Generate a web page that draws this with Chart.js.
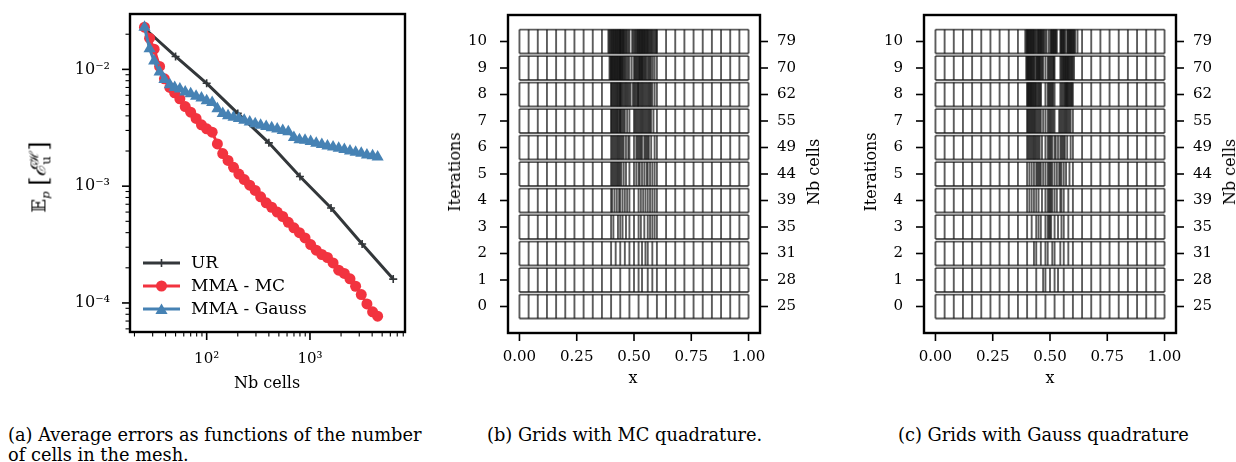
<!DOCTYPE html>
<html><head><meta charset="utf-8">
<script src="https://cdn.jsdelivr.net/npm/chart.js"></script>
<style>
html,body{margin:0;padding:0;background:#fff;}
body{width:1236px;height:462px;position:relative;overflow:hidden;font-family:'DejaVu Serif',serif;color:#000;}
canvas{position:absolute;top:0;}
.t{position:absolute;white-space:nowrap;font-family:'DejaVu Serif',serif;font-size:16px;line-height:1;transform:translate(-50%,-50%);}
.rot{transform:translate(-50%,-50%) rotate(-90deg);}
.cap{position:absolute;white-space:nowrap;font-family:'DejaVu Serif',serif;font-size:15px;line-height:1;}
</style></head><body>
<canvas id="ca" width="420" height="400" style="left:0px"></canvas>
<canvas id="cb" width="390" height="400" style="left:430px"></canvas>
<canvas id="cc" width="390" height="400" style="left:846px"></canvas>

<div class="t" style="left:267px;top:383px">Nb cells</div>
<div class="t rot" style="left:40px;top:177px;font-size:18px">𝔼<sub style="font-size:0.65em"><i>p</i></sub> <span style="font-size:1.3em;vertical-align:-0.05em">[</span><span style="font-size:1.15em;font-style:italic">ℰ</span><span style="display:inline-block;vertical-align:middle;font-size:0.72em;line-height:0.95;">ℋ<br>u</span><span style="font-size:1.3em;vertical-align:-0.05em">]</span></div>

<div class="t" style="left:633px;top:378px">x</div>
<div class="t rot" style="left:455px;top:172px">Iterations</div>
<div class="t rot" style="left:814px;top:172px">Nb cells</div>

<div class="t" style="left:1050px;top:378px">x</div>
<div class="t rot" style="left:871px;top:172px">Iterations</div>
<div class="t rot" style="left:1230px;top:172px">Nb cells</div>

<div class="cap" id="capa1" style="left:8px;top:426px">(a) Average errors as functions of the number</div>
<div class="cap" id="capa2" style="left:8px;top:446px">of cells in the mesh.</div>
<div class="cap" id="capb" style="left:487px;top:426px">(b) Grids with MC quadrature.</div>
<div class="cap" id="capc" style="left:898px;top:426px">(c) Grids with Gauss quadrature</div>

<script>
// ---------- Panel (a) data ----------
const urCells = [25, 50, 100, 200, 400, 800, 1600, 3200, 6400];
const urError = [0.0225, 0.0129, 0.0076, 0.0042, 0.00235, 0.00121, 0.00065, 0.00032, 0.00016];
const mmaCells = [25, 28, 31, 35, 39, 44, 49, 55, 62, 70, 79, 89, 100, 113, 127, 143, 161, 182, 205, 231, 261, 295, 333, 377, 426, 482, 545, 617, 699, 791, 896, 1015, 1150, 1303, 1477, 1674, 1898, 2152, 2440, 2767, 3138, 3560, 4040, 4520];
const mcError = [0.0230, 0.0185, 0.0149, 0.0106, 0.0083, 0.0070, 0.0063, 0.0056, 0.0048, 0.0043, 0.0038, 0.00335, 0.0031, 0.0029, 0.0023, 0.0019, 0.00166, 0.00145, 0.00127, 0.00114, 0.00102, 0.00092, 0.00081, 0.00072, 0.00066, 0.0006, 0.00055, 0.00049, 0.00044, 0.0004, 0.00036, 0.000316, 0.000283, 0.00026, 0.000245, 0.00022, 0.000191, 0.000179, 0.000161, 0.000139, 0.000118, 0.000098, 0.000084, 0.000077];
const gaussError = [0.0230, 0.0150, 0.0118, 0.0095, 0.0082, 0.0074, 0.0070, 0.0068, 0.0064, 0.0062, 0.0059, 0.0057, 0.0054, 0.0052, 0.0046, 0.0042, 0.0040, 0.0039, 0.0038, 0.00366, 0.00354, 0.00343, 0.00333, 0.00325, 0.00316, 0.00308, 0.0030, 0.00292, 0.00261, 0.0025, 0.00247, 0.00241, 0.00233, 0.00227, 0.00221, 0.00216, 0.00211, 0.00206, 0.0020, 0.00195, 0.00191, 0.00185, 0.00182, 0.00178];
const seriesNames = ['UR', 'MMA - MC', 'MMA - Gauss'];
const xMajorTicks = [100, 1000];
const xMajorLabels = ['10²', '10³'];
const xMinorTicks = [20, 30, 40, 50, 60, 70, 80, 90, 200, 300, 400, 500, 600, 700, 800, 900, 2000, 3000, 4000, 5000, 6000, 7000, 8000];
const yMajorTicks = [0.0001, 0.001, 0.01];
const yMajorLabels = ['10⁻⁴', '10⁻³', '10⁻²'];
const yMinorTicks = [0.00006, 0.00007, 0.00008, 0.00009, 0.0002, 0.0003, 0.0004, 0.0005, 0.0006, 0.0007, 0.0008, 0.0009, 0.002, 0.003, 0.004, 0.005, 0.006, 0.007, 0.008, 0.009, 0.02];

// ---------- Panels (b),(c) data ----------
const iterations = [0, 1, 2, 3, 4, 5, 6, 7, 8, 9, 10];
const nbCells = [25, 28, 31, 35, 39, 44, 49, 55, 62, 70, 79];
const xGridTicks = [0, 0.25, 0.5, 0.75, 1.0];
const xGridLabels = ['0.00', '0.25', '0.50', '0.75', '1.00'];
const baseEdges = [0, 0.04, 0.08, 0.12, 0.16, 0.2, 0.24, 0.28, 0.32, 0.36, 0.4, 0.44, 0.48, 0.52, 0.56, 0.6, 0.64, 0.68, 0.72, 0.76, 0.8, 0.84, 0.88, 0.92, 0.96, 1.0];
const mcExtraEdges = [
  [],
  [0.50, 0.535, 0.58],
  [0.42, 0.46, 0.50, 0.535, 0.55, 0.58],
  [0.41, 0.43, 0.45, 0.465, 0.50, 0.53, 0.545, 0.57, 0.58, 0.59],
  [0.405, 0.415, 0.425, 0.435, 0.45, 0.46, 0.47, 0.50, 0.53, 0.54, 0.55, 0.57, 0.58, 0.59],
  [0.405, 0.41, 0.415, 0.42, 0.425, 0.43, 0.435, 0.445, 0.455, 0.465, 0.50, 0.51, 0.525, 0.535, 0.545, 0.555, 0.57, 0.58, 0.59],
  [0.405, 0.41, 0.415, 0.42, 0.425, 0.43, 0.435, 0.445, 0.45, 0.455, 0.465, 0.475, 0.50, 0.51, 0.515, 0.525, 0.53, 0.535, 0.545, 0.55, 0.555, 0.565, 0.575, 0.59],
  [0.402, 0.406, 0.41, 0.414, 0.418, 0.422, 0.426, 0.43, 0.435, 0.44, 0.445, 0.45, 0.455, 0.46, 0.47, 0.50, 0.505, 0.51, 0.515, 0.525, 0.53, 0.535, 0.54, 0.545, 0.55, 0.555, 0.565, 0.57, 0.575, 0.585],
  [0.402, 0.406, 0.41, 0.414, 0.418, 0.422, 0.426, 0.43, 0.434, 0.438, 0.442, 0.446, 0.45, 0.455, 0.46, 0.465, 0.47, 0.475, 0.485, 0.495, 0.50, 0.505, 0.51, 0.515, 0.518, 0.525, 0.53, 0.535, 0.54, 0.545, 0.55, 0.555, 0.565, 0.57, 0.575, 0.58, 0.59],
  [0.393, 0.397, 0.402, 0.405, 0.408, 0.411, 0.414, 0.417, 0.42, 0.423, 0.426, 0.429, 0.432, 0.435, 0.438, 0.442, 0.445, 0.448, 0.451, 0.455, 0.459, 0.463, 0.468, 0.474, 0.49, 0.50, 0.504, 0.508, 0.512, 0.516, 0.523, 0.526, 0.529, 0.532, 0.535, 0.538, 0.542, 0.546, 0.55, 0.554, 0.565, 0.57, 0.575, 0.582, 0.59],
  [0.388, 0.392, 0.396, 0.403, 0.406, 0.409, 0.412, 0.415, 0.418, 0.421, 0.424, 0.427, 0.43, 0.433, 0.436, 0.439, 0.443, 0.446, 0.449, 0.452, 0.455, 0.458, 0.462, 0.466, 0.47, 0.476, 0.492, 0.497, 0.502, 0.506, 0.51, 0.514, 0.517, 0.523, 0.526, 0.529, 0.532, 0.535, 0.538, 0.541, 0.544, 0.547, 0.55, 0.553, 0.557, 0.563, 0.567, 0.571, 0.575, 0.579, 0.584, 0.589, 0.594, 0.598]
];
const gaussExtraEdges = [
  [],
  [0.47, 0.50, 0.535],
  [0.43, 0.46, 0.49, 0.51, 0.545, 0.58],
  [0.42, 0.45, 0.46, 0.49, 0.495, 0.50, 0.505, 0.535, 0.55, 0.58],
  [0.41, 0.42, 0.43, 0.45, 0.465, 0.49, 0.495, 0.50, 0.505, 0.51, 0.53, 0.545, 0.55, 0.58],
  [0.41, 0.42, 0.43, 0.445, 0.45, 0.455, 0.46, 0.47, 0.49, 0.495, 0.50, 0.505, 0.51, 0.53, 0.54, 0.545, 0.55, 0.57, 0.585],
  [0.405, 0.41, 0.415, 0.42, 0.425, 0.43, 0.435, 0.445, 0.45, 0.455, 0.465, 0.49, 0.495, 0.50, 0.505, 0.51, 0.525, 0.535, 0.545, 0.55, 0.555, 0.565, 0.575, 0.59],
  [0.403, 0.407, 0.411, 0.415, 0.419, 0.423, 0.427, 0.431, 0.435, 0.445, 0.45, 0.455, 0.46, 0.47, 0.49, 0.495, 0.50, 0.505, 0.51, 0.515, 0.54, 0.545, 0.55, 0.555, 0.565, 0.57, 0.575, 0.58, 0.585, 0.59],
  [0.402, 0.405, 0.408, 0.411, 0.414, 0.417, 0.42, 0.423, 0.426, 0.43, 0.434, 0.437, 0.445, 0.449, 0.453, 0.457, 0.461, 0.49, 0.494, 0.498, 0.502, 0.506, 0.51, 0.514, 0.545, 0.55, 0.555, 0.565, 0.568, 0.571, 0.574, 0.577, 0.58, 0.584, 0.588, 0.592, 0.596],
  [0.396, 0.402, 0.405, 0.408, 0.411, 0.414, 0.417, 0.42, 0.423, 0.426, 0.43, 0.434, 0.443, 0.446, 0.449, 0.452, 0.455, 0.458, 0.462, 0.466, 0.47, 0.49, 0.494, 0.498, 0.502, 0.506, 0.51, 0.514, 0.517, 0.545, 0.549, 0.553, 0.557, 0.563, 0.566, 0.569, 0.572, 0.575, 0.578, 0.581, 0.584, 0.588, 0.592, 0.596, 0.605],
  [0.392, 0.397, 0.402, 0.405, 0.408, 0.411, 0.414, 0.417, 0.42, 0.423, 0.426, 0.429, 0.432, 0.436, 0.445, 0.448, 0.451, 0.454, 0.457, 0.46, 0.463, 0.466, 0.47, 0.485, 0.495, 0.502, 0.505, 0.508, 0.511, 0.514, 0.517, 0.523, 0.526, 0.53, 0.545, 0.548, 0.551, 0.554, 0.557, 0.563, 0.567, 0.575, 0.578, 0.581, 0.584, 0.587, 0.59, 0.593, 0.596, 0.603, 0.606, 0.61, 0.62, 0.474]
];

// ---------- styles ----------
const FONT = 'DejaVu Serif';
Chart.defaults.font.family = FONT;
Chart.defaults.font.size = 15;
Chart.defaults.color = '#000';
const C_UR = '#33373a', C_MC = '#f2333f', C_GA = '#4682b4';
const ROW_HALF = 0.45;
const CELL_COLOR = 'rgba(15,15,15,0.68)';

function noPad(s) { s.paddingTop = 0; s.paddingBottom = 0; s.paddingLeft = 0; s.paddingRight = 0; }

function makeFrame(spec) {
  return {
    id: 'frame',
    afterDraw(chart) {
      const {ctx, chartArea: a} = chart;
      ctx.save();
      ctx.strokeStyle = '#000';
      for (const id of Object.keys(spec)) {
        const s = chart.scales[id];
        const major = spec[id];
        for (const t of s.ticks) {
          const isMajor = major ? major.includes(t.value) : true;
          const len = isMajor ? 8 : 4.5;
          ctx.lineWidth = isMajor ? 1.6 : 1.1;
          const p = s.getPixelForValue(t.value);
          ctx.beginPath();
          if (s.position === 'bottom') { ctx.moveTo(p, a.bottom); ctx.lineTo(p, a.bottom + len); }
          else if (s.position === 'left') { ctx.moveTo(a.left, p); ctx.lineTo(a.left - len, p); }
          else { ctx.moveTo(a.right, p); ctx.lineTo(a.right + len, p); }
          ctx.stroke();
        }
      }
      ctx.lineWidth = 2.4;
      ctx.strokeRect(a.left, a.top, a.right - a.left, a.bottom - a.top);
      ctx.restore();
    }
  };
}

function drawMarker(ctx, style, x, y, r, color) {
  ctx.fillStyle = color; ctx.strokeStyle = color;
  ctx.beginPath();
  if (style === 'circle') { ctx.arc(x, y, r, 0, Math.PI * 2); ctx.fill(); }
  else if (style === 'triangle') {
    for (let i = 0; i < 3; i++) {
      const ang = i * 2 * Math.PI / 3;
      const px = x + Math.sin(ang) * r, py = y - Math.cos(ang) * r;
      if (i === 0) ctx.moveTo(px, py); else ctx.lineTo(px, py);
    }
    ctx.closePath(); ctx.fill();
  } else {
    ctx.lineWidth = 1.6;
    ctx.moveTo(x - r, y); ctx.lineTo(x + r, y); ctx.moveTo(x, y - r); ctx.lineTo(x, y + r); ctx.stroke();
  }
}

const legendPlugin = {
  id: 'lgd',
  afterDraw(chart) {
    const {ctx, chartArea: a} = chart;
    const rows = [
      {name: seriesNames[0], color: C_UR, marker: 'cross', r: 4},
      {name: seriesNames[1], color: C_MC, marker: 'circle', r: 5.5},
      {name: seriesNames[2], color: C_GA, marker: 'triangle', r: 7}
    ];
    ctx.save();
    rows.forEach((row, i) => {
      const y = a.bottom - 69 + i * 23;
      const x0 = a.left + 13, x1 = a.left + 50;
      ctx.strokeStyle = row.color; ctx.lineWidth = 3;
      ctx.beginPath(); ctx.moveTo(x0, y); ctx.lineTo(x1, y); ctx.stroke();
      drawMarker(ctx, row.marker, (x0 + x1) / 2, y + (row.marker === 'triangle' ? 1.5 : 0), row.r, row.color);
      ctx.fillStyle = '#000';
      ctx.font = '17px ' + FONT;
      ctx.textBaseline = 'middle'; ctx.textAlign = 'left';
      ctx.fillText(row.name, a.left + 61, y + 1);
    });
    ctx.restore();
  }
};

// ---------- Chart (a) ----------
new Chart(document.getElementById('ca'), {
  type: 'line',
  data: {
    datasets: [
      {label: seriesNames[0], data: urCells.map((c, i) => ({x: c, y: urError[i]})), borderColor: C_UR, backgroundColor: C_UR,
       borderWidth: 3, pointStyle: 'cross', pointRadius: 4, pointBorderWidth: 1.6, order: 3},
      {label: seriesNames[1], data: mmaCells.map((c, i) => ({x: c, y: mcError[i]})), borderColor: C_MC, backgroundColor: C_MC,
       borderWidth: 3, pointStyle: 'circle', pointRadius: 5.5, pointBorderWidth: 0, order: 2},
      {label: seriesNames[2], data: mmaCells.map((c, i) => ({x: c, y: gaussError[i]})), borderColor: C_GA, backgroundColor: C_GA,
       borderWidth: 3, pointStyle: 'triangle', pointRadius: 7, pointBorderWidth: 0, order: 1}
    ]
  },
  options: {
    responsive: false, animation: false, events: [],
    layout: {padding: {top: 14, right: 15, left: 0, bottom: 0}},
    plugins: {legend: {display: false}, tooltip: {enabled: false}},
    scales: {
      x: {type: 'logarithmic', min: 18.1, max: 8320,
          grid: {display: false, drawTicks: true, tickLength: 8}, border: {display: false},
          afterBuildTicks: s => { s.ticks = xMinorTicks.concat(xMajorTicks).sort((p, q) => p - q).map(v => ({value: v})); },
          afterFit: s => { s.height = 68; noPad(s); },
          ticks: {autoSkip: false, maxRotation: 0, padding: 10,
                  callback: v => { const k = xMajorTicks.indexOf(v); return k >= 0 ? xMajorLabels[k] : ''; }}},
      y: {type: 'logarithmic', min: 0.0000564, max: 0.0298,
          grid: {display: false, drawTicks: true, tickLength: 8}, border: {display: false},
          afterBuildTicks: s => { s.ticks = yMinorTicks.concat(yMajorTicks).sort((p, q) => p - q).map(v => ({value: v})); },
          afterFit: s => { s.width = 130; noPad(s); },
          ticks: {autoSkip: false, padding: 12, font: {size: 16},
                  callback: v => { const k = yMajorTicks.findIndex(m => Math.abs(m - v) < m * 1e-6); return k >= 0 ? yMajorLabels[k] : ''; }}}
    }
  },
  plugins: [makeFrame({x: xMajorTicks, y: yMajorTicks}), legendPlugin]
});

// ---------- Charts (b),(c) ----------
// one dataset per cell edge so that overlapping edges darken like the reference
function gridDatasets(extra) {
  const sets = [];
  iterations.forEach((k, i) => {
    baseEdges.concat(extra[i]).forEach(e => {
      sets.push({data: [{x: e, y: k - ROW_HALF}, {x: e, y: k + ROW_HALF}],
                 borderColor: CELL_COLOR, borderWidth: 1.9, pointRadius: 0, fill: false, tension: 0});
    });
    sets.push({data: [{x: 0, y: k - ROW_HALF}, {x: 1, y: k - ROW_HALF}, {x: 1, y: null}, {x: 0, y: k + ROW_HALF}, {x: 1, y: k + ROW_HALF}],
               borderColor: CELL_COLOR, borderWidth: 1.9, pointRadius: 0, fill: false, tension: 0, spanGaps: false});
  });
  return sets;
}

function gridChart(id, extra) {
  new Chart(document.getElementById(id), {
    type: 'line',
    data: {datasets: gridDatasets(extra)},
    options: {
      responsive: false, animation: false, events: [],
      layout: {padding: {top: 15, right: 0, left: 0, bottom: 0}},
      plugins: {legend: {display: false}, tooltip: {enabled: false}},
      scales: {
        x: {type: 'linear', min: -0.05, max: 1.05,
            grid: {display: false, drawTicks: true, tickLength: 8}, border: {display: false},
            afterBuildTicks: s => { s.ticks = xGridTicks.map(v => ({value: v})); },
            afterFit: s => { s.height = 67; noPad(s); },
            ticks: {autoSkip: false, maxRotation: 0, padding: 7,
                    callback: v => { const k = xGridTicks.indexOf(v); return k >= 0 ? xGridLabels[k] : ''; }}},
        y: {type: 'linear', position: 'left', min: -1, max: 11,
            grid: {display: false, drawTicks: true, tickLength: 8}, border: {display: false},
            afterBuildTicks: s => { s.ticks = iterations.map(v => ({value: v})); },
            afterFit: s => { s.width = 78; noPad(s); },
            ticks: {autoSkip: false, padding: 13, callback: v => String(v)}},
        y2: {type: 'linear', position: 'right', min: -1, max: 11,
            grid: {display: false, drawTicks: true, tickLength: 8}, border: {display: false},
            afterBuildTicks: s => { s.ticks = iterations.map(v => ({value: v})); },
            afterFit: s => { s.width = 60; noPad(s); },
            ticks: {autoSkip: false, padding: 9, callback: v => { const k = iterations.indexOf(v); return k >= 0 ? String(nbCells[k]) : ''; }}}
      }
    },
    plugins: [makeFrame({x: null, y: null, y2: null})]
  });
}
gridChart('cb', mcExtraEdges);
gridChart('cc', gaussExtraEdges);

// fit caption size so line (a) spans its measured width
(function () {
  const ref = document.getElementById('capa1');
  const w = ref.getBoundingClientRect().width;
  const size = 15 * 414 / w;
  document.querySelectorAll('.cap').forEach(el => { el.style.fontSize = size.toFixed(2) + 'px'; });
})();
</script>
</body></html>
